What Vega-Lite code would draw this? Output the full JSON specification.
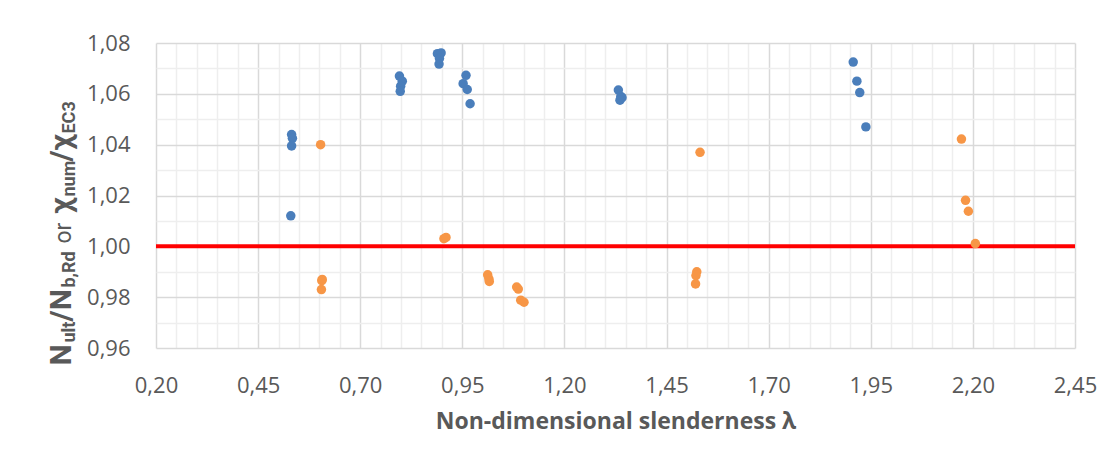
{
  "$schema": "https://vega.github.io/schema/vega-lite/v6.json",
  "width": 919,
  "height": 305,
  "autosize": "none",
  "padding": {"left": 156, "top": 43, "right": 32, "bottom": 118},
  "config": {
    "locale": {"number": {"decimal": ",", "thousands": ".", "grouping": [3], "currency": ["", " €"]}},
    "view": {"stroke": null},
    "font": "Open Sans",
    "axis": {"labelFont": "Open Sans", "titleFont": "Open Sans", "labelColor": "#595959", "titleColor": "#595959"}
  },
  "datasets": {
    "ref": [{"level": 1.0}],
    "pts": [
      {"series": "Nult/Nb,Rd", "lambda": 0.532, "ratio": 1.044},
      {"series": "Nult/Nb,Rd", "lambda": 0.534, "ratio": 1.0425},
      {"series": "Nult/Nb,Rd", "lambda": 0.532, "ratio": 1.0395},
      {"series": "Nult/Nb,Rd", "lambda": 0.530, "ratio": 1.012},
      {"series": "Nult/Nb,Rd", "lambda": 0.796, "ratio": 1.067},
      {"series": "Nult/Nb,Rd", "lambda": 0.803, "ratio": 1.065},
      {"series": "Nult/Nb,Rd", "lambda": 0.799, "ratio": 1.063},
      {"series": "Nult/Nb,Rd", "lambda": 0.798, "ratio": 1.061},
      {"series": "Nult/Nb,Rd", "lambda": 0.889, "ratio": 1.0758},
      {"series": "Nult/Nb,Rd", "lambda": 0.898, "ratio": 1.0761},
      {"series": "Nult/Nb,Rd", "lambda": 0.894, "ratio": 1.0739},
      {"series": "Nult/Nb,Rd", "lambda": 0.893, "ratio": 1.0717},
      {"series": "Nult/Nb,Rd", "lambda": 0.959, "ratio": 1.0673},
      {"series": "Nult/Nb,Rd", "lambda": 0.952, "ratio": 1.064},
      {"series": "Nult/Nb,Rd", "lambda": 0.962, "ratio": 1.0617},
      {"series": "Nult/Nb,Rd", "lambda": 0.969, "ratio": 1.0561},
      {"series": "Nult/Nb,Rd", "lambda": 1.332, "ratio": 1.0615},
      {"series": "Nult/Nb,Rd", "lambda": 1.338, "ratio": 1.059},
      {"series": "Nult/Nb,Rd", "lambda": 1.341, "ratio": 1.0585},
      {"series": "Nult/Nb,Rd", "lambda": 1.336, "ratio": 1.0575},
      {"series": "Nult/Nb,Rd", "lambda": 1.907, "ratio": 1.0725},
      {"series": "Nult/Nb,Rd", "lambda": 1.916, "ratio": 1.065},
      {"series": "Nult/Nb,Rd", "lambda": 1.923, "ratio": 1.0605},
      {"series": "Nult/Nb,Rd", "lambda": 1.938, "ratio": 1.047},
      {"series": "χnum/χEC3", "lambda": 0.603, "ratio": 1.040},
      {"series": "χnum/χEC3", "lambda": 0.607, "ratio": 0.987},
      {"series": "χnum/χEC3", "lambda": 0.606, "ratio": 0.9865},
      {"series": "χnum/χEC3", "lambda": 0.605, "ratio": 0.983},
      {"series": "χnum/χEC3", "lambda": 0.905, "ratio": 1.003},
      {"series": "χnum/χEC3", "lambda": 0.910, "ratio": 1.0035},
      {"series": "χnum/χEC3", "lambda": 1.012, "ratio": 0.9888},
      {"series": "χnum/χEC3", "lambda": 1.015, "ratio": 0.9872},
      {"series": "χnum/χEC3", "lambda": 1.016, "ratio": 0.9862},
      {"series": "χnum/χEC3", "lambda": 1.083, "ratio": 0.984},
      {"series": "χnum/χEC3", "lambda": 1.087, "ratio": 0.9832},
      {"series": "χnum/χEC3", "lambda": 1.093, "ratio": 0.9788},
      {"series": "χnum/χEC3", "lambda": 1.101, "ratio": 0.978},
      {"series": "χnum/χEC3", "lambda": 1.532, "ratio": 1.037},
      {"series": "χnum/χEC3", "lambda": 1.524, "ratio": 0.99},
      {"series": "χnum/χEC3", "lambda": 1.522, "ratio": 0.9885},
      {"series": "χnum/χEC3", "lambda": 1.521, "ratio": 0.9852},
      {"series": "χnum/χEC3", "lambda": 2.172, "ratio": 1.0422},
      {"series": "χnum/χEC3", "lambda": 2.182, "ratio": 1.0181},
      {"series": "χnum/χEC3", "lambda": 2.189, "ratio": 1.0138},
      {"series": "χnum/χEC3", "lambda": 2.206, "ratio": 1.0011}
    ]
  },
  "resolve": {"axis": {"x": "independent", "y": "independent"}},
  "layer": [
    {
      "mark": {"type": "rule", "strokeOpacity": 0},
      "encoding": {
        "x": {"datum": 1.0, "type": "quantitative",
          "scale": {"domain": [0.2, 2.45], "nice": false, "zero": false},
          "axis": {"orient": "bottom", "values": [0.25,0.3,0.35,0.4,0.5,0.55,0.6,0.65,0.75,0.8,0.85,0.9,1.0,1.05,1.1,1.15,1.25,1.3,1.35,1.4,1.5,1.55,1.6,1.65,1.75,1.8,1.85,1.9,2.0,2.05,2.1,2.15,2.25,2.3,2.35,2.4],
            "grid": true, "gridColor": "#eeeeee", "gridWidth": 1.5, "labels": false, "ticks": false, "domain": false, "title": null}},
        "y": {"datum": 1.0, "type": "quantitative",
          "scale": {"domain": [0.96, 1.08], "nice": false, "zero": false},
          "axis": {"orient": "left", "values": [0.97,0.99,1.01,1.03,1.05,1.07],
            "grid": true, "gridColor": "#eeeeee", "gridWidth": 1.5, "labels": false, "ticks": false, "domain": false, "title": null}}
      }
    },
    {
      "data": {"name": "ref"},
      "mark": {"type": "rule", "color": "#ff0000", "strokeWidth": 4},
      "encoding": {
        "y": {"field": "level", "type": "quantitative", "axis": null}
      }
    },
    {
      "data": {"name": "pts"},
      "mark": {"type": "circle", "size": 90, "opacity": 1},
      "encoding": {
        "x": {"field": "lambda", "type": "quantitative",
          "axis": {"orient": "bottom", "values": [0.2,0.45,0.7,0.95,1.2,1.45,1.7,1.95,2.2,2.45], "format": ".2f",
            "grid": true, "gridColor": "#d9d9d9", "gridWidth": 1.5, "ticks": false, "domain": false,
            "labelFontSize": 22, "labelPadding": 27, "labelFlush": false,
            "title": "Non-dimensional slenderness λ", "titleFontSize": 23, "titleFontWeight": "bold", "titlePadding": 14}},
        "y": {"field": "ratio", "type": "quantitative",
          "axis": {"orient": "left", "values": [0.96,0.98,1.0,1.02,1.04,1.06,1.08], "format": ".2f",
            "grid": true, "gridColor": "#d9d9d9", "gridWidth": 1.5, "ticks": false, "domain": false,
            "labelFontSize": 22, "labelPadding": 26, "title": null}},
        "color": {"field": "series", "type": "nominal",
          "scale": {"domain": ["Nult/Nb,Rd", "χnum/χEC3"], "range": ["#4a7ebb", "#f79646"]}, "legend": null}
      }
    },
    {"mark": {"type": "rule", "strokeOpacity": 0}, "encoding": {"y": {"datum": 1.0, "type": "quantitative",
      "axis": {"orient": "left", "labels": false, "ticks": false, "domain": false, "grid": false, "title": "N", "titleX": -86, "titleY": 322, "titleAngle": 270, "titleAlign": "left", "titleBaseline": "alphabetic", "titleFont": "Roboto", "titleFontSize": 30, "titleFontWeight": "bold"}}}},
    {"mark": {"type": "rule", "strokeOpacity": 0}, "encoding": {"y": {"datum": 1.0, "type": "quantitative",
      "axis": {"orient": "left", "labels": false, "ticks": false, "domain": false, "grid": false, "title": "ult", "titleX": -82, "titleY": 299, "titleAngle": 270, "titleAlign": "left", "titleBaseline": "alphabetic", "titleFont": "Roboto", "titleFontSize": 18, "titleFontWeight": "bold"}}}},
    {"mark": {"type": "rule", "strokeOpacity": 0}, "encoding": {"y": {"datum": 1.0, "type": "quantitative",
      "axis": {"orient": "left", "labels": false, "ticks": false, "domain": false, "grid": false, "title": "/N", "titleX": -86, "titleY": 278, "titleAngle": 270, "titleAlign": "left", "titleBaseline": "alphabetic", "titleFont": "Roboto", "titleFontSize": 30, "titleFontWeight": "bold"}}}},
    {"mark": {"type": "rule", "strokeOpacity": 0}, "encoding": {"y": {"datum": 1.0, "type": "quantitative",
      "axis": {"orient": "left", "labels": false, "ticks": false, "domain": false, "grid": false, "title": "b,Rd", "titleX": -82, "titleY": 244, "titleAngle": 270, "titleAlign": "left", "titleBaseline": "alphabetic", "titleFont": "Roboto", "titleFontSize": 18, "titleFontWeight": "bold"}}}},
    {"mark": {"type": "rule", "strokeOpacity": 0}, "encoding": {"y": {"datum": 1.0, "type": "quantitative",
      "axis": {"orient": "left", "labels": false, "ticks": false, "domain": false, "grid": false, "title": "or", "titleX": -86, "titleY": 200, "titleAngle": 270, "titleAlign": "left", "titleBaseline": "alphabetic", "titleFont": "Roboto", "titleFontSize": 23, "titleFontWeight": "normal"}}}},
    {"mark": {"type": "rule", "strokeOpacity": 0}, "encoding": {"y": {"datum": 1.0, "type": "quantitative",
      "axis": {"orient": "left", "labels": false, "ticks": false, "domain": false, "grid": false, "title": "χ", "titleX": -86, "titleY": 170, "titleAngle": 270, "titleAlign": "left", "titleBaseline": "alphabetic", "titleFont": "Roboto", "titleFontSize": 30, "titleFontWeight": "bold"}}}},
    {"mark": {"type": "rule", "strokeOpacity": 0}, "encoding": {"y": {"datum": 1.0, "type": "quantitative",
      "axis": {"orient": "left", "labels": false, "ticks": false, "domain": false, "grid": false, "title": "num", "titleX": -82, "titleY": 153, "titleAngle": 270, "titleAlign": "left", "titleBaseline": "alphabetic", "titleFont": "Roboto", "titleFontSize": 18, "titleFontWeight": "bold"}}}},
    {"mark": {"type": "rule", "strokeOpacity": 0}, "encoding": {"y": {"datum": 1.0, "type": "quantitative",
      "axis": {"orient": "left", "labels": false, "ticks": false, "domain": false, "grid": false, "title": "/χ", "titleX": -86, "titleY": 118, "titleAngle": 270, "titleAlign": "left", "titleBaseline": "alphabetic", "titleFont": "Roboto", "titleFontSize": 30, "titleFontWeight": "bold"}}}},
    {"mark": {"type": "rule", "strokeOpacity": 0}, "encoding": {"y": {"datum": 1.0, "type": "quantitative",
      "axis": {"orient": "left", "labels": false, "ticks": false, "domain": false, "grid": false, "title": "EC3", "titleX": -82, "titleY": 90, "titleAngle": 270, "titleAlign": "left", "titleBaseline": "alphabetic", "titleFont": "Roboto", "titleFontSize": 18, "titleFontWeight": "bold"}}}}
  ]
}
